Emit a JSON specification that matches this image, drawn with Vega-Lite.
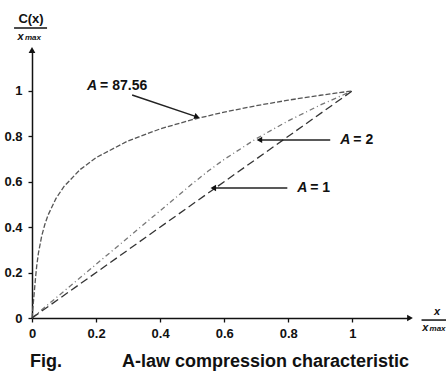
{
  "$schema": "https://vega.github.io/schema/vega-lite/v6.json",
  "width": 378,
  "height": 268,
  "autosize": {"type": "none"},
  "padding": {"left": 32, "top": 50, "right": 36, "bottom": 54},
  "background": "white",
  "config": {
    "view": {"stroke": null},
    "text": {"font": "Liberation Sans"},
    "axis": {"labelFont": "Liberation Sans", "grid": false}
  },
  "datasets": {
    "curves": [
      {"A": "87.56", "x": 0, "y": 0},
      {"A": "87.56", "x": 0.005, "y": 0.08},
      {"A": "87.56", "x": 0.0114, "y": 0.1824},
      {"A": "87.56", "x": 0.015, "y": 0.2326},
      {"A": "87.56", "x": 0.02, "y": 0.2851},
      {"A": "87.56", "x": 0.03, "y": 0.3592},
      {"A": "87.56", "x": 0.04, "y": 0.4118},
      {"A": "87.56", "x": 0.05, "y": 0.4526},
      {"A": "87.56", "x": 0.075, "y": 0.5267},
      {"A": "87.56", "x": 0.1, "y": 0.5792},
      {"A": "87.56", "x": 0.15, "y": 0.6533},
      {"A": "87.56", "x": 0.2, "y": 0.7059},
      {"A": "87.56", "x": 0.3, "y": 0.78},
      {"A": "87.56", "x": 0.4, "y": 0.8326},
      {"A": "87.56", "x": 0.5, "y": 0.8733},
      {"A": "87.56", "x": 0.6, "y": 0.9067},
      {"A": "87.56", "x": 0.7, "y": 0.9348},
      {"A": "87.56", "x": 0.8, "y": 0.9592},
      {"A": "87.56", "x": 0.9, "y": 0.9807},
      {"A": "87.56", "x": 1, "y": 1},
      {"A": "2", "x": 0, "y": 0},
      {"A": "2", "x": 0.5, "y": 0.5906},
      {"A": "2", "x": 0.55, "y": 0.6469},
      {"A": "2", "x": 0.6, "y": 0.6983},
      {"A": "2", "x": 0.7, "y": 0.7894},
      {"A": "2", "x": 0.8, "y": 0.8682},
      {"A": "2", "x": 0.9, "y": 0.9378},
      {"A": "2", "x": 1, "y": 1},
      {"A": "1", "x": 0, "y": 0},
      {"A": "1", "x": 1, "y": 1}
    ],
    "arrows": [
      {"A": "87.56", "x": 0.3125, "y": 0.982, "x2": 0.515, "y2": 0.8855},
      {"A": "2", "x": 0.931, "y": 0.784, "x2": 0.71, "y2": 0.784},
      {"A": "1", "x": 0.797, "y": 0.5724, "x2": 0.566, "y2": 0.5724}
    ],
    "notes": [
      {"a": "A", "rest": "= 87.56", "x": 0.172, "y": 1.0216},
      {"a": "A", "rest": "= 2", "x": 0.9625, "y": 0.784},
      {"a": "A", "rest": "= 1", "x": 0.828, "y": 0.5724}
    ],
    "axisEnds": [
      {"which": "x", "x": 1.18, "y": 0},
      {"which": "y", "x": 0, "y": 1.18}
    ],
    "boldText": [
      {"t": "C(x)", "x": -0.003, "y": 1.317, "size": "m"},
      {"t": "Fig.", "x": -0.006, "y": -0.194, "size": "l"},
      {"t": "A-law compression characteristic", "x": 0.281, "y": -0.194, "size": "l"}
    ],
    "italicText": [
      {"t": "x", "x": 1.255, "y": 0.028},
      {"t": "x", "x": -0.045, "y": 1.237},
      {"t": "x", "x": 1.218, "y": -0.044}
    ],
    "subText": [
      {"t": "max", "x": -0.022, "y": 1.232},
      {"t": "max", "x": 1.241, "y": -0.05}
    ],
    "bars": [
      {"x": -0.056, "x2": 0.047, "y": 1.277},
      {"x": 1.216, "x2": 1.3, "y": -0.009}
    ]
  },
  "layer": [
    {
      "data": {"name": "curves"},
      "mark": {"type": "line", "strokeWidth": 1.3},
      "encoding": {
        "x": {
          "field": "x", "type": "quantitative", "title": null,
          "scale": {"domain": [0, 1.18], "nice": false, "zero": false},
          "axis": {
            "values": [0, 0.2, 0.4, 0.6, 0.8, 1], "format": ".1~f",
            "domainColor": "#111", "domainWidth": 1.5, "tickColor": "#111", "tickWidth": 1.3,
            "tickSize": 4, "labelPadding": 5, "labelFontSize": 13, "labelFontWeight": "bold",
            "labelColor": "#111", "labelFlush": false
          }
        },
        "y": {
          "field": "y", "type": "quantitative", "title": null,
          "scale": {"domain": [0, 1.18], "nice": false, "zero": false},
          "axis": {
            "values": [0, 0.2, 0.4, 0.6, 0.8, 1], "format": ".1~f",
            "domainColor": "#111", "domainWidth": 1.5, "tickColor": "#111", "tickWidth": 1.3,
            "tickSize": 4, "labelPadding": 6, "labelFontSize": 13, "labelFontWeight": "bold",
            "labelColor": "#111", "labelFlush": false
          }
        },
        "detail": {"field": "A"},
        "color": {"field": "A", "type": "nominal", "legend": null,
          "scale": {"domain": ["87.56", "2", "1"], "range": ["#555555", "#777777", "#333333"]}},
        "strokeDash": {"field": "A", "type": "nominal", "legend": null,
          "scale": {"domain": ["87.56", "2", "1"], "range": [[5, 2], [5, 3, 1, 3], [8, 4]]}}
      }
    },
    {
      "data": {"name": "arrows"},
      "mark": {"type": "rule", "color": "#222", "strokeWidth": 1.5},
      "encoding": {
        "x": {"field": "x", "type": "quantitative", "title": null},
        "y": {"field": "y", "type": "quantitative", "title": null},
        "x2": {"field": "x2"},
        "y2": {"field": "y2"}
      }
    },
    {
      "data": {"name": "arrows"},
      "transform": [{"filter": "datum.A != '87.56'"}],
      "mark": {"type": "point", "shape": "triangle-left", "filled": true, "color": "#111", "size": 40, "opacity": 1},
      "encoding": {
        "x": {"field": "x2", "type": "quantitative", "title": null},
        "y": {"field": "y2", "type": "quantitative", "title": null}
      }
    },
    {
      "data": {"name": "arrows"},
      "transform": [{"filter": "datum.A == '87.56'"}],
      "mark": {"type": "point", "shape": "triangle-right", "angle": 19, "filled": true, "color": "#111", "size": 40, "opacity": 1},
      "encoding": {
        "x": {"field": "x2", "type": "quantitative", "title": null},
        "y": {"field": "y2", "type": "quantitative", "title": null}
      }
    },
    {
      "data": {"name": "axisEnds"},
      "transform": [{"filter": "datum.which == 'x'"}],
      "mark": {"type": "point", "shape": "triangle-right", "filled": true, "color": "#111", "size": 45, "opacity": 1},
      "encoding": {
        "x": {"field": "x", "type": "quantitative", "title": null},
        "y": {"field": "y", "type": "quantitative", "title": null}
      }
    },
    {
      "data": {"name": "axisEnds"},
      "transform": [{"filter": "datum.which == 'y'"}],
      "mark": {"type": "point", "shape": "triangle-up", "filled": true, "color": "#111", "size": 45, "opacity": 1},
      "encoding": {
        "x": {"field": "x", "type": "quantitative", "title": null},
        "y": {"field": "y", "type": "quantitative", "title": null}
      }
    },
    {
      "data": {"name": "notes"},
      "mark": {"type": "text", "align": "left", "baseline": "middle", "fontSize": 14, "fontWeight": "bold", "fontStyle": "italic", "color": "#111"},
      "encoding": {
        "x": {"field": "x", "type": "quantitative", "title": null},
        "y": {"field": "y", "type": "quantitative", "title": null},
        "text": {"field": "a"}
      }
    },
    {
      "data": {"name": "notes"},
      "mark": {"type": "text", "align": "left", "baseline": "middle", "fontSize": 14, "fontWeight": "bold", "dx": 13, "color": "#111"},
      "encoding": {
        "x": {"field": "x", "type": "quantitative", "title": null},
        "y": {"field": "y", "type": "quantitative", "title": null},
        "text": {"field": "rest"}
      }
    },
    {
      "data": {"name": "boldText"},
      "transform": [{"filter": "datum.size == 'm'"}],
      "mark": {"type": "text", "align": "center", "baseline": "middle", "fontSize": 13, "fontWeight": "bold", "color": "#111"},
      "encoding": {
        "x": {"field": "x", "type": "quantitative", "title": null},
        "y": {"field": "y", "type": "quantitative", "title": null},
        "text": {"field": "t"}
      }
    },
    {
      "data": {"name": "boldText"},
      "transform": [{"filter": "datum.size == 'l'"}],
      "mark": {"type": "text", "align": "left", "baseline": "middle", "fontSize": 18, "fontWeight": "bold", "color": "#111"},
      "encoding": {
        "x": {"field": "x", "type": "quantitative", "title": null},
        "y": {"field": "y", "type": "quantitative", "title": null},
        "text": {"field": "t"}
      }
    },
    {
      "data": {"name": "italicText"},
      "mark": {"type": "text", "align": "left", "baseline": "middle", "fontSize": 11, "fontWeight": "bold", "fontStyle": "italic", "color": "#111"},
      "encoding": {
        "x": {"field": "x", "type": "quantitative", "title": null},
        "y": {"field": "y", "type": "quantitative", "title": null},
        "text": {"field": "t"}
      }
    },
    {
      "data": {"name": "subText"},
      "mark": {"type": "text", "align": "left", "baseline": "middle", "fontSize": 8, "fontWeight": "bold", "fontStyle": "italic", "color": "#111"},
      "encoding": {
        "x": {"field": "x", "type": "quantitative", "title": null},
        "y": {"field": "y", "type": "quantitative", "title": null},
        "text": {"field": "t"}
      }
    },
    {
      "data": {"name": "bars"},
      "mark": {"type": "rule", "color": "#111", "strokeWidth": 1.5},
      "encoding": {
        "x": {"field": "x", "type": "quantitative", "title": null},
        "x2": {"field": "x2"},
        "y": {"field": "y", "type": "quantitative", "title": null}
      }
    }
  ]
}
